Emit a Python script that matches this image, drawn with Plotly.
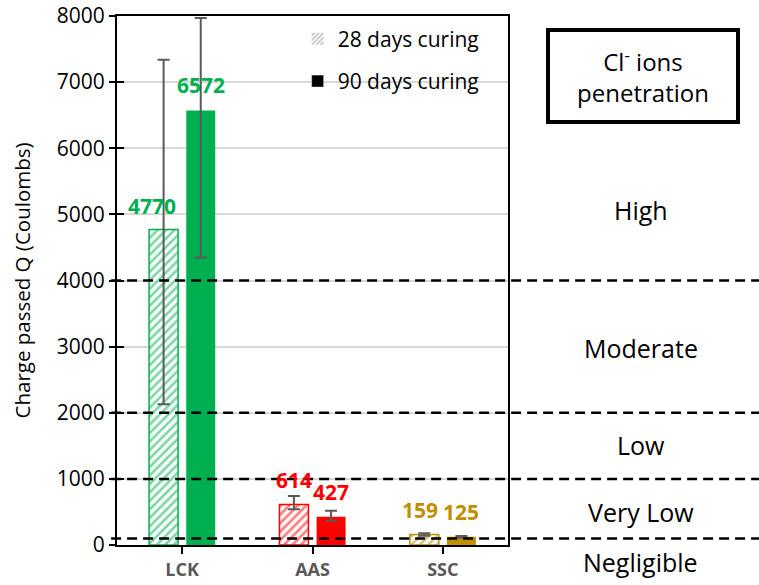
import plotly.graph_objects as go

categories = ["LCK", "AAS", "SSC"]
q28 = [4770, 614, 159]
q90 = [6572, 427, 125]
err28_plus = [2570, 127, 18]
err28_minus = [2640, 74, 18]
err90_plus = [1396, 92, 11]
err90_minus = [2225, 59, 11]
colors = ["#00B050", "#FF0000", "#BF8F00"]
zone_limits = [100, 1000, 2000, 4000]
zone_names = ["High", "Moderate", "Low", "Very Low", "Negligible"]
zone_label_y = [5070, 2980, 1510, 500, -260]
yticks = [0, 1000, 2000, 3000, 4000, 5000, 6000, 7000, 8000]
YMAX = 8000

FONT = "Open Sans"
ERRC = "#595959"

fig = go.Figure()

fig.add_trace(go.Bar(
    x=categories, y=q28, name="28 days curing", showlegend=False,
    offsetgroup="a",
    marker=dict(color="white", line=dict(color=colors, width=1.5),
                pattern=dict(shape="/", fgcolor=colors, bgcolor="white",
                             size=6, solidity=0.45, fillmode="overlay")),
    error_y=dict(type="data", array=err28_plus, arrayminus=err28_minus,
                 color=ERRC, thickness=2, width=6),
))
fig.add_trace(go.Bar(
    x=categories, y=q90, name="90 days curing", showlegend=False,
    offsetgroup="b",
    marker=dict(color=colors, line=dict(width=0)),
    error_y=dict(type="data", array=err90_plus, arrayminus=err90_minus,
                 color=ERRC, thickness=2, width=6),
))

# legend-only dummy traces
fig.add_trace(go.Bar(
    x=[None], y=[None], name="28 days curing", offsetgroup="a",
    legendgroup="g1",
    marker=dict(color="white", line=dict(color="#7f7f7f", width=0),
                pattern=dict(shape="/", fgcolor="#7f7f7f", bgcolor="white",
                             size=4, solidity=0.5)),
))
fig.add_trace(go.Bar(
    x=[None], y=[None], name="90 days curing", offsetgroup="b",
    legendgroup="g2",
    marker=dict(color="black"),
))

# dashed zone boundary lines
for lim in zone_limits:
    fig.add_shape(type="line", xref="paper", yref="y",
                  x0=-0.015, x1=1.65, y0=lim, y1=lim,
                  line=dict(color="black", width=2.5, dash="10px,6px"))

# zone labels
for name, yy in zip(zone_names, zone_label_y):
    fig.add_annotation(xref="paper", yref="paper", x=1.34, y=yy / YMAX, text=name,
                       xanchor="center", yanchor="middle",
                       showarrow=False, font=dict(family=FONT, size=25, color="black"))

# value labels
xshift_28 = [-30, -18.5, -23]
for i, c in enumerate(categories):
    fig.add_annotation(x=c, y=q28[i], text=f"<b>{q28[i]}</b>", showarrow=False,
                       xanchor="center", yanchor="middle",
                       xshift=xshift_28[i], yshift=24,
                       font=dict(family=FONT, size=21, color=colors[i]))
    fig.add_annotation(x=c, y=q90[i], text=f"<b>{q90[i]}</b>", showarrow=False,
                       xanchor="center", yanchor="middle",
                       xshift=18.5, yshift=25,
                       font=dict(family=FONT, size=21, color=colors[i]))

# boxed title
fig.add_annotation(xref="paper", yref="paper", x=1.345, y=(545 - 76) / 529,
                   xanchor="center", yanchor="middle",
                   text="Cl<sup>-</sup> ions<br>penetration", showarrow=False,
                   font=dict(family=FONT, size=24, color="black"),
                   bordercolor="black", borderwidth=4, borderpad=2,
                   width=182, height=84, bgcolor="white")

# y-axis title
fig.add_annotation(xref="paper", yref="paper", x=-0.243, y=0.5,
                   xanchor="center", yanchor="middle",
                   text="Charge passed Q (Coulombs)", textangle=-90, showarrow=False,
                   font=dict(family=FONT, size=20.5, color="black"))

fig.update_layout(
    width=759, height=585,
    margin=dict(l=117, r=251, t=16, b=40, autoexpand=False),
    paper_bgcolor="white", plot_bgcolor="white",
    barmode="group", bargap=0.43, bargroupgap=0.22,
    font=dict(family=FONT, size=20, color="black"),
    legend=dict(x=0.462, y=0.995, xanchor="left", yanchor="top",
                bgcolor="rgba(0,0,0,0)", font=dict(family=FONT, size=21),
                traceorder="grouped", tracegroupgap=12, itemwidth=30),
    xaxis=dict(range=[-0.5, 2.5], showline=True, linecolor="black", linewidth=2,
               mirror=True, ticks="outside", ticklen=7, tickcolor="black", tickwidth=1.5,
               tickfont=dict(family=FONT, size=18, color="#595959"), automargin=False,
               tickprefix="<b>", ticksuffix="</b>", showgrid=False),
    yaxis=dict(range=[0, YMAX], tickvals=yticks, showline=True, linecolor="black",
               linewidth=2, mirror=True, ticks="outside", ticklen=6, tickcolor="black",
               tickwidth=2, showgrid=True, gridcolor="#D9D9D9", gridwidth=1.5,
               automargin=False, ticklabeloverflow="allow",
               tickfont=dict(family=FONT, size=21, color="black"), zeroline=False),
    yaxis2=dict(range=[0, YMAX], tickvals=yticks, overlaying="y", side="left",
                ticks="inside", ticklen=7, tickcolor="black", tickwidth=2, automargin=False,
                showticklabels=False, showgrid=False, showline=False, zeroline=False),
)
fig.add_trace(go.Scatter(x=[None], y=[None], yaxis="y2", showlegend=False))

fig.write_html("out.html", config={"displayModeBar": False},
               post_script="document.body.style.margin='0';")
